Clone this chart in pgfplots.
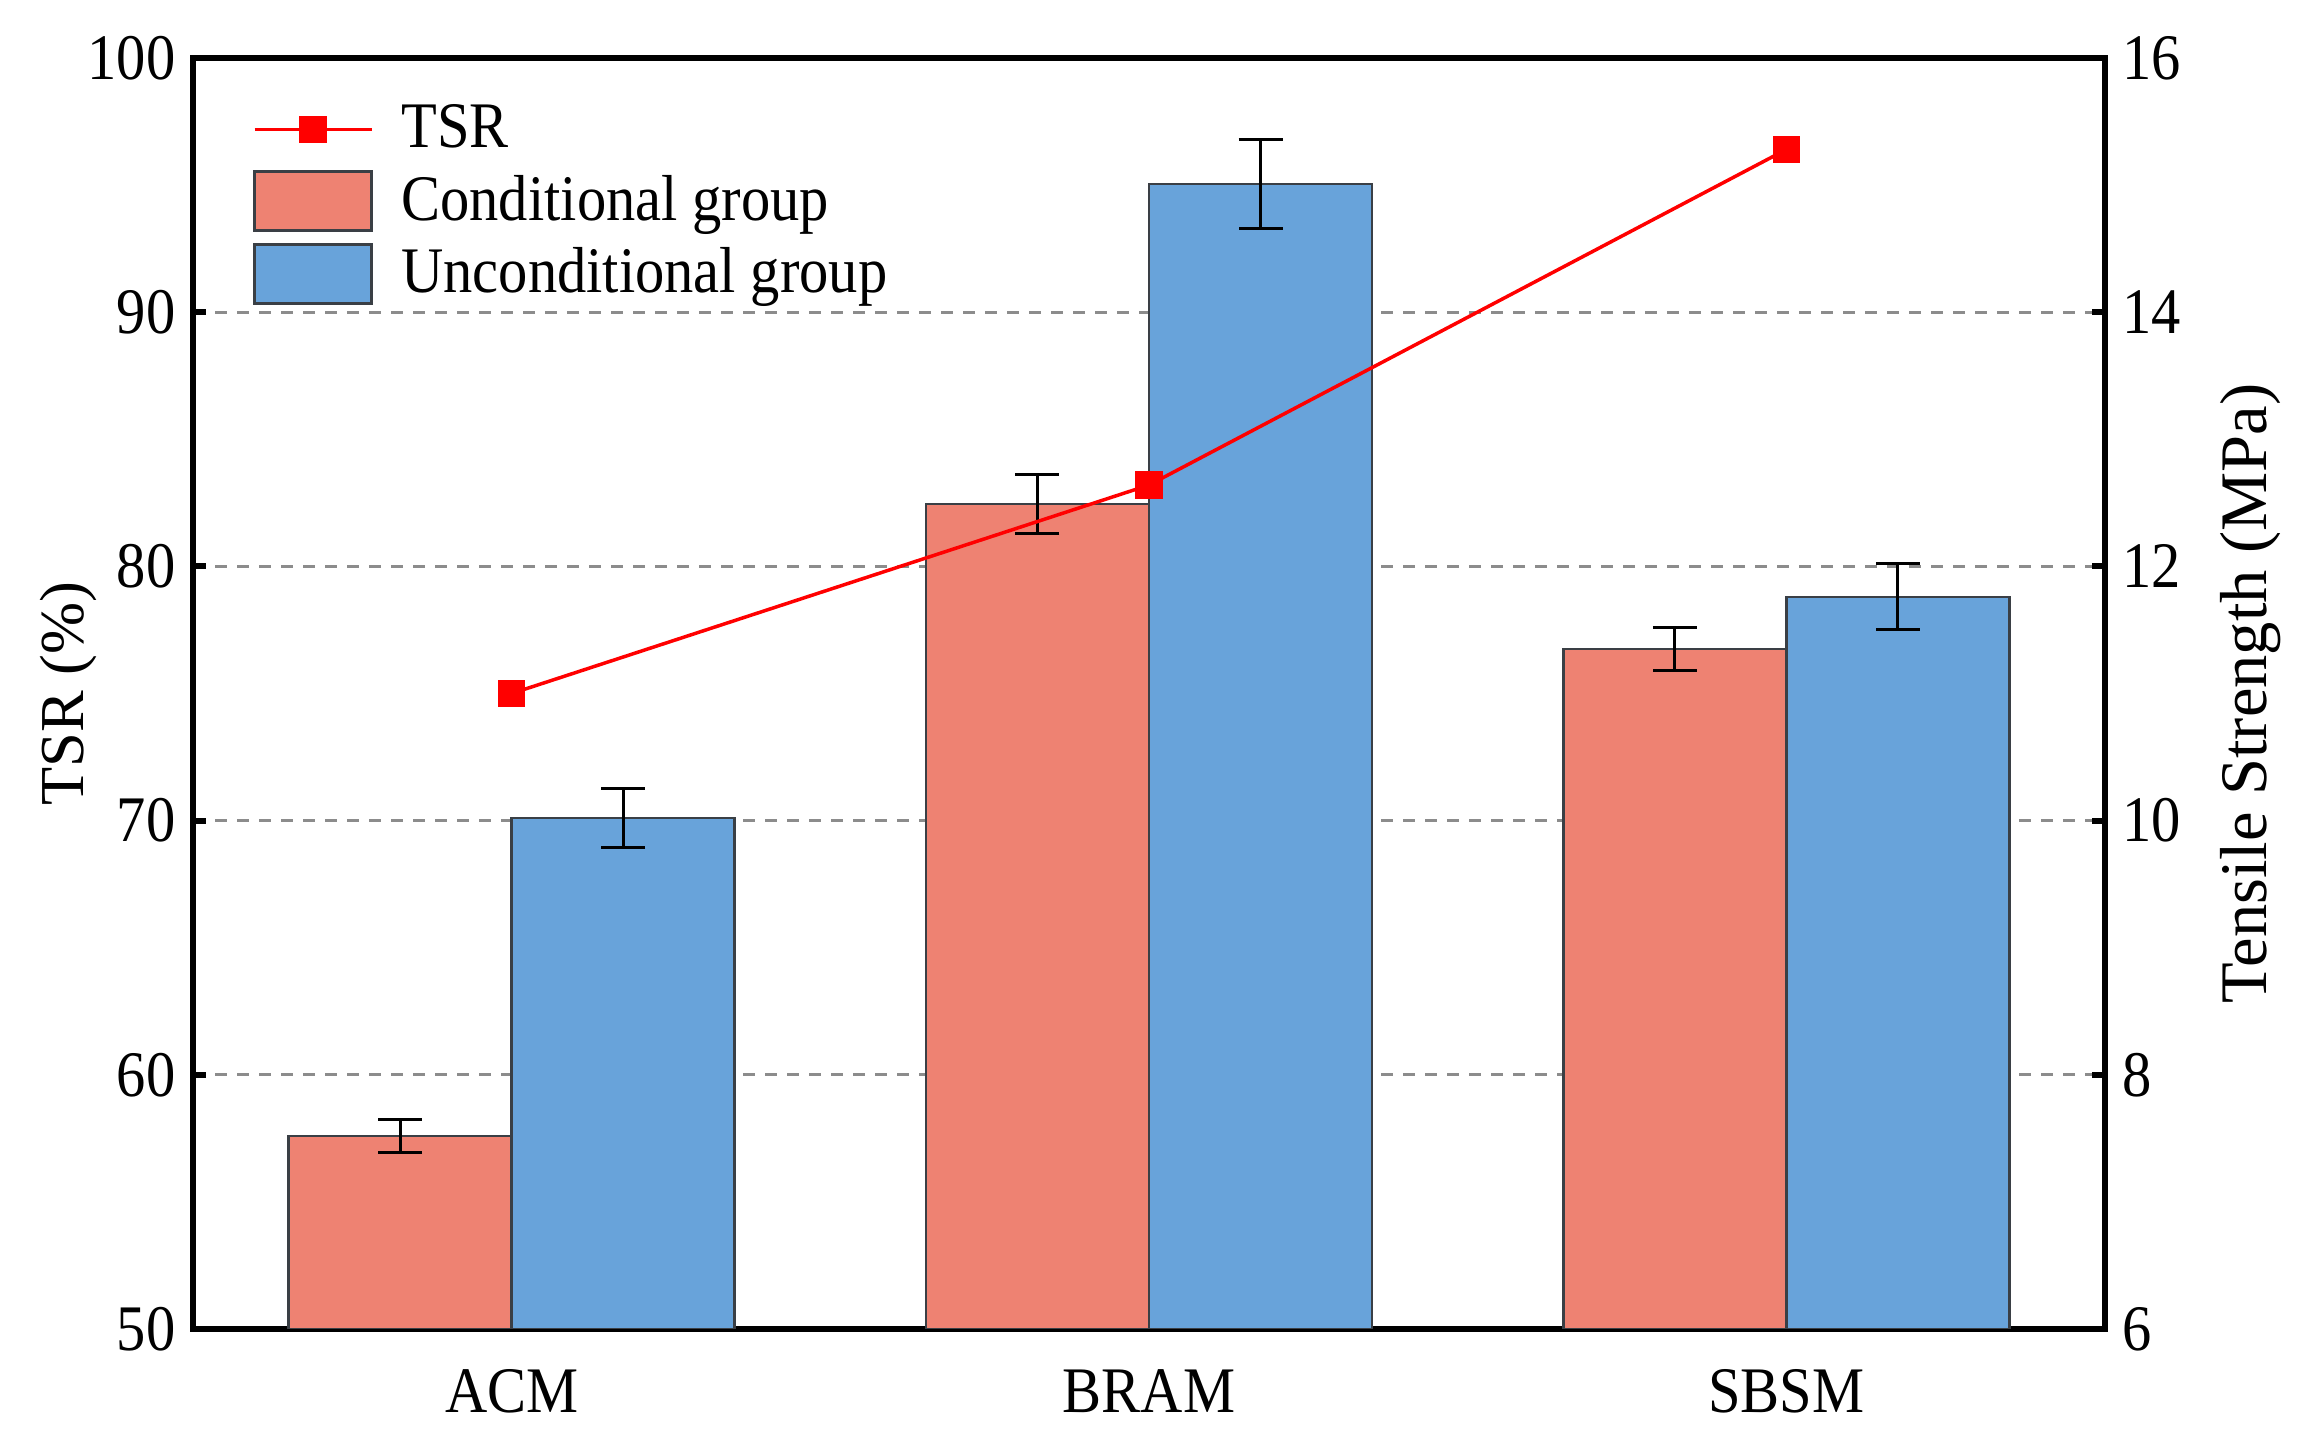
\documentclass[border=0pt]{standalone}
\usepackage{pgfplots}
\pgfplotsset{compat=1.18}
\usepackage{fontspec}
\setmainfont[FakeStretch=0.9]{Liberation Serif}
\newfontfamily\labelfont{Liberation Serif}
\usetikzlibrary{calc}
\definecolor{condc}{HTML}{EE8272}
\definecolor{uncondc}{HTML}{68A3DA}
\definecolor{edgec}{HTML}{3A3F45}
\definecolor{gridc}{HTML}{8C8C8C}
\pgfplotsset{
  barlegend/.style={legend image code/.code={\draw[##1] (0pt,-5.9pt) rectangle (23.4pt,5.9pt); \path (27pt,0pt);}},
  tsrlegend/.style={legend image code/.code={\draw[##1, mark=none] (0pt,0pt) -- (23.4pt,0pt); \draw[##1] plot coordinates {(11.7pt,0pt)}; \path (27pt,0pt);}},
  base/.style={scale only axis, width=382.4pt, height=254.2pt, xmin=-0.5, xmax=2.5,
    /pgf/number format/assume math mode=true,
    tick label style={font=\fontsize{13}{15}\selectfont},
    axis line style={line width=1.2pt, black},
    tick style={line width=1.2pt, black},
    tick align=inside, major tick length=2.6pt,
  }
}
\begin{document}
\begin{tikzpicture}[font=\fontsize{13}{15}\selectfont]
\begin{axis}[base, ymin=6, ymax=16, ytick={6,8,...,16},
  ytick pos=right, yticklabel pos=right,
  ymajorgrids, grid style={dash pattern=on 2.4pt off 2pt, gridc, line width=0.6pt},
  xtick={0,1,2}, xticklabels={ACM,BRAM,SBSM}, xtick style={draw=none},
  xticklabel style={yshift=-2pt},
  ylabel={Tensile Strength (MPa)},
  ylabel style={at={(axis description cs:1.076,0.5)}, anchor=center, font=\labelfont\fontsize{13.3}{15}\selectfont},
  ybar, bar width=0.35,
]
\addplot[fill=condc, draw=edgec, line width=0.5pt, bar shift=-0.175,
  error bars/.cd, y dir=both, y explicit,
  error bar style={line width=0.6pt, black},
  error mark options={line width=0.6pt, black, mark size=4.4pt, rotate=90}]
  coordinates {(0,7.52) +- (0,0.13) (1,12.49) +- (0,0.23) (2,11.35) +- (0,0.17)};
\addplot[fill=uncondc, draw=edgec, line width=0.5pt, bar shift=0.175,
  error bars/.cd, y dir=both, y explicit,
  error bar style={line width=0.6pt, black},
  error mark options={line width=0.6pt, black, mark size=4.4pt, rotate=90}]
  coordinates {(0,10.02) +- (0,0.23) (1,15.01) +- (0,0.35) (2,11.76) +- (0,0.26)};
\coordinate (SW) at (rel axis cs:0,0);
\coordinate (NE) at (rel axis cs:1,1);
\end{axis}
\begin{axis}[base, ymin=50, ymax=100, ytick={50,60,...,100},
  ytick pos=left, yticklabel pos=left, hide x axis,
  ylabel={TSR (\%)},
  ylabel style={at={(axis description cs:-0.065,0.5)}, anchor=center, font=\labelfont\fontsize{12.5}{15}\selectfont},
  legend style={draw=none, fill=none, at={(axis description cs:0.023,0.98)}, anchor=north west,
    row sep=0pt, font=\fontsize{13}{15}\selectfont},
  legend cell align=left]
\addplot[red, line width=0.7pt, mark=square*, mark size=2.4pt, mark options={solid, fill=red}, tsrlegend]
  coordinates {(0,75.0) (1,83.2) (2,96.4)};
\addlegendentry{TSR}
\addlegendimage{fill=condc, draw=edgec, line width=0.5pt, barlegend}
\addlegendentry{Conditional group}
\addlegendimage{fill=uncondc, draw=edgec, line width=0.5pt, barlegend}
\addlegendentry{Unconditional group}
\end{axis}
\pgfresetboundingbox
\path[use as bounding box] ($(SW)+(-38.6pt,-22.2pt)$) rectangle ($(NE)+(40.8pt,11.6pt)$);
\end{tikzpicture}
\end{document}
